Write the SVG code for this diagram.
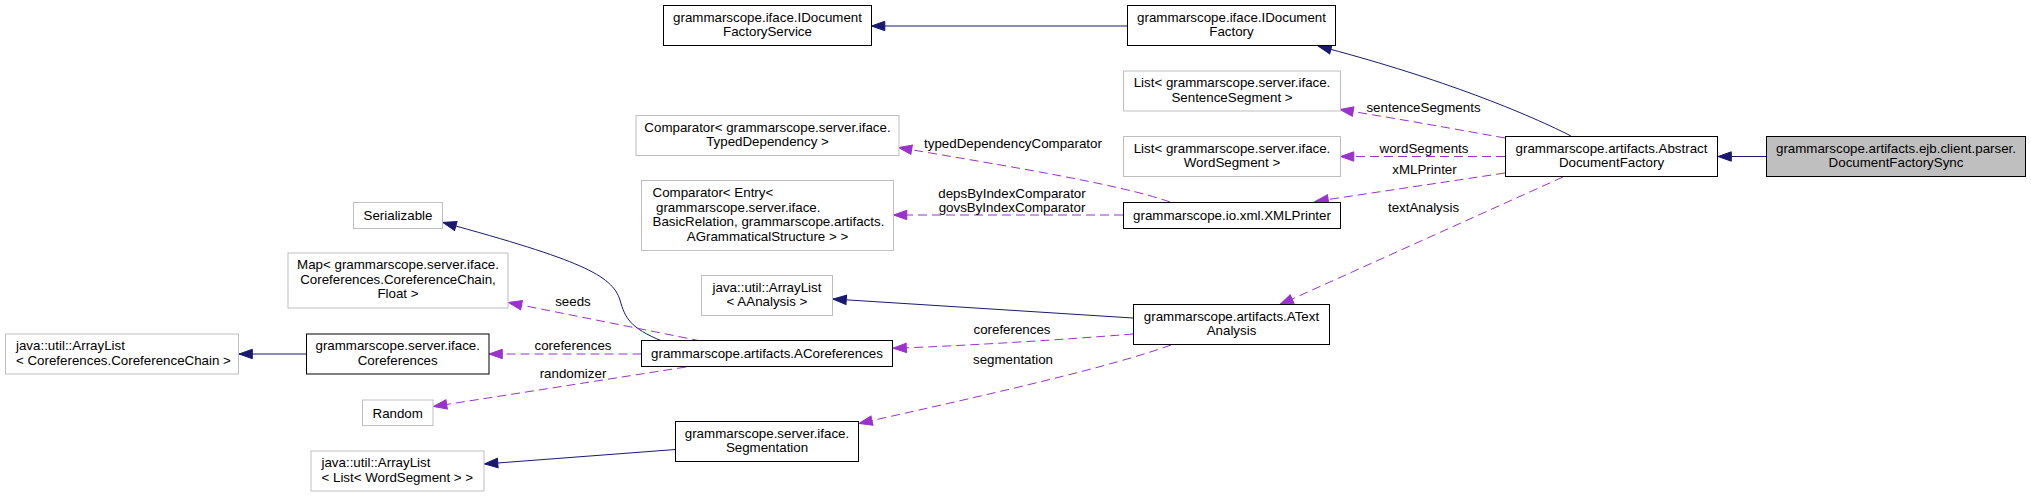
<svg xmlns="http://www.w3.org/2000/svg" width="2031" height="497" viewBox="0 0 2031 497">
<style>
text{font-family:"Liberation Sans",Arial,Helvetica,sans-serif;font-size:13.33px;fill:#000}
.c{text-anchor:middle}
.s{text-anchor:start}
.nb{fill:#fff;stroke:#000;stroke-width:1}
.ng{fill:#fff;stroke:#bfbfbf;stroke-width:1}
.nm{fill:#bfbfbf;stroke:#000;stroke-width:1}
.inh{fill:none;stroke:#191970;stroke-width:1;marker-end:url(#ai)}
.use{fill:none;stroke:#9a32cd;stroke-width:1;stroke-dasharray:9,5;marker-end:url(#au)}
</style>
<defs>
<marker id="ai" markerUnits="userSpaceOnUse" markerWidth="16" markerHeight="12" viewBox="-1 -6 16 12" refX="13.3" refY="0" orient="auto"><path d="M0,-4.7 L13.3,0 L0,4.7 Z" fill="#191970" stroke="#191970"/></marker>
<marker id="au" markerUnits="userSpaceOnUse" markerWidth="16" markerHeight="12" viewBox="-1 -6 16 12" refX="13.3" refY="0" orient="auto"><path d="M0,-4.7 L13.3,0 L0,4.7 Z" fill="#9a32cd" stroke="#9a32cd"/></marker>
</defs>
<rect width="2031" height="497" fill="#fff"/>
<g id="connectors">
<path class="inh" d="M1766,156.5 L1718,156.5"/>
<path class="inh" d="M1571,136 C1520,110 1430,75 1318,46"/>
<path class="inh" d="M1127.5,26 L871.5,26"/>
<path class="use" d="M1505,138 C1460,130 1400,119 1340,109.5"/>
<path class="use" d="M1505,156.5 L1340.5,156.5"/>
<path class="use" d="M1505,173 L1315,201.5"/>
<path class="use" d="M1563,177 L1280,304.5"/>
<path class="use" d="M1170,202 C1120,184 1000,165 898.5,147.5"/>
<path class="use" d="M1123,215 L893.5,215"/>
<path class="inh" d="M1133,318 L833,299"/>
<path class="use" d="M1133,334 C1060,340 960,346 893,348.3"/>
<path class="use" d="M1171,345 C1110,367 1000,392 859,423.5"/>
<path class="inh" d="M662,341 C630,328 625,318 620,300 C612,275 580,260 443,222.5"/>
<path class="use" d="M701,341 L508.5,302.5"/>
<path class="use" d="M641.5,354 L489,354"/>
<path class="use" d="M686,367 L433.5,406.5"/>
<path class="inh" d="M306.5,354 L239,354"/>
<path class="inh" d="M675.5,449.5 L484.5,464"/>
<text class="c" x="1423.5" y="111.5">sentenceSegments</text>
<text class="c" x="1424" y="153">wordSegments</text>
<text class="c" x="1424.5" y="174">xMLPrinter</text>
<text class="c" x="1423.5" y="211.5">textAnalysis</text>
<text class="c" x="1013" y="147.5">typedDependencyComparator</text>
<text class="c" x="1012" y="197.5">depsByIndexComparator</text>
<text class="c" x="1012" y="211.5">govsByIndexComparator</text>
<text class="c" x="1012" y="333.5">coreferences</text>
<text class="c" x="1013" y="363.5">segmentation</text>
<text class="c" x="573" y="305.5">seeds</text>
<text class="c" x="573" y="350">coreferences</text>
<text class="c" x="573" y="377.5">randomizer</text>
</g>
<g id="node-DocumentFactorySync">
<rect class="nm" x="1766.5" y="136.5" width="259" height="40"/>
<text class="c" x="1896" y="152.5">grammarscope.artifacts.ejb.client.parser.</text>
<text class="c" x="1896" y="167">DocumentFactorySync</text>
</g>
<g id="node-AbstractDocumentFactory">
<rect class="nb" x="1505.5" y="136.5" width="212" height="40"/>
<text class="c" x="1611.5" y="152.5">grammarscope.artifacts.Abstract</text>
<text class="c" x="1611.5" y="167">DocumentFactory</text>
</g>
<g id="node-IDocumentFactory">
<rect class="nb" x="1127.5" y="5.5" width="208" height="40"/>
<text class="c" x="1231.5" y="21.5">grammarscope.iface.IDocument</text>
<text class="c" x="1231.5" y="36">Factory</text>
</g>
<g id="node-IDocumentFactoryService">
<rect class="nb" x="663.5" y="5.5" width="208" height="40"/>
<text class="c" x="767.5" y="21.5">grammarscope.iface.IDocument</text>
<text class="c" x="767.5" y="36">FactoryService</text>
</g>
<g id="node-SentenceSegmentList">
<rect class="ng" x="1123.5" y="71" width="217" height="40"/>
<text class="c" x="1232" y="87">List&lt; grammarscope.server.iface.</text>
<text class="c" x="1232" y="101.5">SentenceSegment &gt;</text>
</g>
<g id="node-WordSegmentList">
<rect class="ng" x="1123.5" y="136.5" width="217" height="40"/>
<text class="c" x="1232" y="152.5">List&lt; grammarscope.server.iface.</text>
<text class="c" x="1232" y="167">WordSegment &gt;</text>
</g>
<g id="node-XMLPrinter">
<rect class="nb" x="1123.5" y="202.5" width="217" height="26"/>
<text class="c" x="1232" y="220">grammarscope.io.xml.XMLPrinter</text>
</g>
<g id="node-ComparatorTypedDependency">
<rect class="ng" x="636" y="115.5" width="263" height="40"/>
<text class="c" x="767.5" y="131.5">Comparator&lt; grammarscope.server.iface.</text>
<text class="c" x="767.5" y="146">TypedDependency &gt;</text>
</g>
<g id="node-ComparatorEntry">
<rect class="ng" x="641.5" y="180.5" width="252" height="70"/>
<text class="s" x="652.5" y="197">Comparator&lt; Entry&lt;</text>
<text class="s" x="656" y="211.5">grammarscope.server.iface.</text>
<text class="s" x="652.5" y="226">BasicRelation, grammarscope.artifacts.</text>
<text class="c" x="767.5" y="240.5">AGrammaticalStructure &gt; &gt;</text>
</g>
<g id="node-ArrayListAAnalysis">
<rect class="ng" x="701.5" y="275.5" width="131" height="40"/>
<text class="c" x="767" y="291.5">java::util::ArrayList</text>
<text class="c" x="767" y="306">&lt; AAnalysis &gt;</text>
</g>
<g id="node-ATextAnalysis">
<rect class="nb" x="1133.5" y="304.5" width="196" height="40"/>
<text class="c" x="1231.5" y="320.5">grammarscope.artifacts.AText</text>
<text class="c" x="1231.5" y="335">Analysis</text>
</g>
<g id="node-ACoreferences">
<rect class="nb" x="641.5" y="340.5" width="251" height="26"/>
<text class="c" x="767" y="358">grammarscope.artifacts.ACoreferences</text>
</g>
<g id="node-Segmentation">
<rect class="nb" x="675.5" y="421.5" width="183" height="40"/>
<text class="c" x="767" y="437.5">grammarscope.server.iface.</text>
<text class="c" x="767" y="452">Segmentation</text>
</g>
<g id="node-Serializable">
<rect class="ng" x="353.5" y="202.5" width="89" height="26"/>
<text class="c" x="398" y="220">Serializable</text>
</g>
<g id="node-Map">
<rect class="ng" x="288" y="253" width="220" height="55"/>
<text class="c" x="398" y="269">Map&lt; grammarscope.server.iface.</text>
<text class="c" x="398" y="283.5">Coreferences.CoreferenceChain,</text>
<text class="c" x="398" y="298">Float &gt;</text>
</g>
<g id="node-Coreferences">
<rect class="nb" x="306.5" y="334" width="182.5" height="40"/>
<text class="c" x="397.7" y="350">grammarscope.server.iface.</text>
<text class="c" x="397.7" y="364.5">Coreferences</text>
</g>
<g id="node-ArrayListCoreferenceChain">
<rect class="ng" x="5.5" y="334" width="233" height="40"/>
<text class="s" x="16" y="350">java::util::ArrayList</text>
<text class="s" x="16" y="364.5">&lt; Coreferences.CoreferenceChain &gt;</text>
</g>
<g id="node-Random">
<rect class="ng" x="362.5" y="400" width="70.5" height="25.5"/>
<text class="c" x="397.7" y="417.5">Random</text>
</g>
<g id="node-ArrayListWordSegment">
<rect class="ng" x="311" y="451" width="173" height="40"/>
<text class="s" x="321.5" y="467">java::util::ArrayList</text>
<text class="s" x="321.5" y="481.5">&lt; List&lt; WordSegment &gt; &gt;</text>
</g>
</svg>
